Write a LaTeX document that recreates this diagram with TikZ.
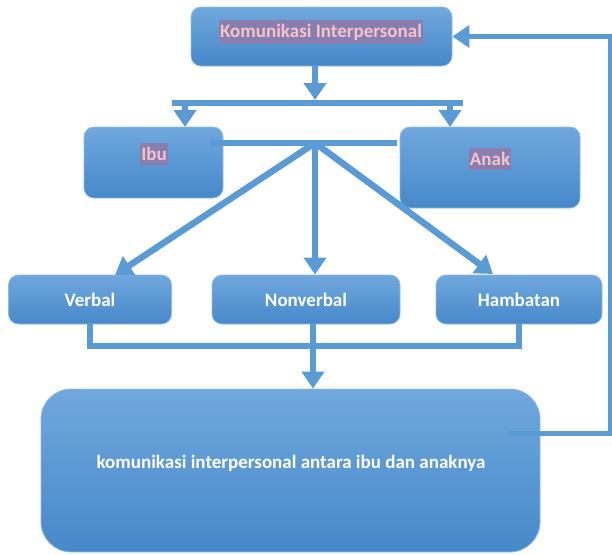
\documentclass[tikz,border=0pt]{standalone}
\usepackage{fontspec}
\setmainfont{Carlito}
\usetikzlibrary{arrows.meta,positioning,calc}
\definecolor{boxtop}{HTML}{70A8DD}
\definecolor{boxbot}{HTML}{4688CA}
\definecolor{boxline}{HTML}{8DBAE4}
\definecolor{linkblue}{HTML}{5B9BD5}
\definecolor{tagfill}{HTML}{8A7EAE}
\definecolor{tagtext}{HTML}{F4C4CC}

\begin{document}
\begin{tikzpicture}[x=1pt, y=-1pt,
                    >={Triangle[length=17pt, width=22pt]},
                    BOX/.style={rectangle, rounded corners=10pt, draw=boxline, line width=0.8pt, top color=boxtop, bottom color=boxbot, text=white, font=\fontsize{19}{22}\selectfont\bfseries, align=center},
                    TAG/.style={rectangle, fill=tagfill, text=tagtext, inner xsep=1pt, inner ysep=4pt, font=\fontsize{19}{22}\selectfont\bfseries},
                    LINK/.style={draw=linkblue, line width=5.5pt},
                ]
                \useasboundingbox (0,0) rectangle (612,554);

                % boxes
                \node[BOX, minimum width=261, minimum height=59] (Top) at (321.5,36.5) {};
                \node[TAG] (TopText) at (321,32) {Komunikasi Interpersonal};
                \node[BOX, minimum width=139, minimum height=71] (Ibu) at (153.5,162.5) {};
                \node[TAG] (IbuText) at (154,154) {Ibu};
                \node[BOX, minimum width=180, minimum height=81] (Anak) at (490,167.5) {};
                \node[TAG] (AnakText) at (490,159) {Anak};
                \node[BOX, minimum width=163, minimum height=49] (Verbal) at (90,299.5) {Verbal};
                \node[BOX, minimum width=188, minimum height=49] (Nonverbal) at (306,299.5) {Nonverbal};
                \node[BOX, minimum width=166, minimum height=49] (Hambatan) at (519,299.5) {Hambatan};
                \node[BOX, rounded corners=30pt, minimum width=499, minimum height=163] (Hasil) at (290.5,470.5) {};
                \node[text=white, font=\fontsize{19}{22}\selectfont\bfseries] (HasilText) at (291,463) {komunikasi interpersonal antara ibu dan anaknya};

                % junction points
                \coordinate (BarL) at (172,103);
                \coordinate (BarR) at (463,103);
                \coordinate (Hub) at (315,143);
                \coordinate (HubL) at (210,143);
                \coordinate (HubR) at (397,143);
                \coordinate (IbuIn) at (185,127);
                \coordinate (AnakIn) at (450,127);
                \coordinate (VerbalIn) at (115,275);
                \coordinate (HambatanIn) at (493,274);
                \coordinate (Join) at (313,346);
                \coordinate (HasilOut) at (508,433.5);
                \coordinate (Loop) at (611,0);

                % connectors
                \draw[LINK, ->] (Top.south -| Hub) -- ([yshift=3pt]BarL -| Hub);
                \draw[LINK] (BarL) -- (BarR);
                \draw[LINK, ->] (IbuIn |- BarL) -- (IbuIn);
                \draw[LINK, ->] (AnakIn |- BarR) -- (AnakIn);
                \draw[LINK] (HubL) -- (HubR);
                \draw[LINK, line width=6.5pt, ->] (Hub) -- (VerbalIn);
                \draw[LINK, ->] (Hub) -- (Nonverbal.north -| Hub);
                \draw[LINK, line width=6.5pt, ->] (Hub) -- (HambatanIn);
                \draw[LINK] (Verbal.south) |- (Join) -| (Hambatan.south);
                \draw[LINK, ->] (Nonverbal.south -| Join) -- (Hasil.north -| Join);
                \draw[LINK, ->] (HasilOut) -- (HasilOut -| Loop) |- (Top.east);

            \end{tikzpicture}
\end{document}
